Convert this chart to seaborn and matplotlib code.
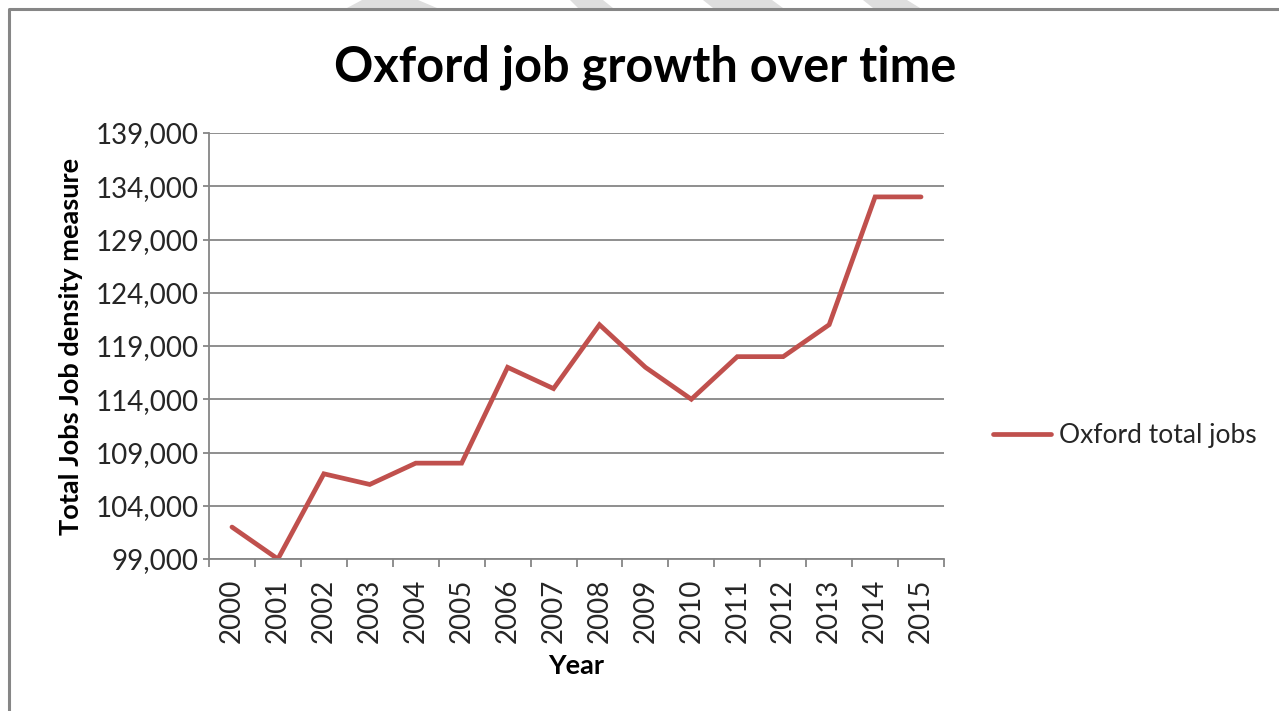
import matplotlib
matplotlib.use("Agg")
import matplotlib.pyplot as plt
import seaborn as sns
import pandas as pd
from matplotlib.lines import Line2D
from matplotlib.patches import Polygon
from matplotlib.ticker import FixedLocator, FuncFormatter

# Data
years = [str(y) for y in range(2000, 2016)]
total_jobs = [102000, 99000, 107000, 106000, 108000, 108000, 117000, 115000,
              121000, 117000, 114000, 118000, 118000, 121000, 133000, 133000]
y_ticks = list(range(99000, 139001, 5000))
series_name = "Oxford total jobs"

W, H = 1279, 711


def fx(px):
    return px / W


def fy(py):
    return 1 - py / H


sns.set_theme(style="white")
plt.rcParams['font.family'] = ['Lato', 'DejaVu Sans']

fig = plt.figure(figsize=(W / 100, H / 100), dpi=100)
fig.patch.set_facecolor("white")

# Page decorations: faint diagonal stripes above the chart frame
stripe_color = "#dedede"
stripes = [
    [(347, 8), (437, 8), (418, 0), (362, 0)],
    [(578, 8), (613, 8), (603, 0), (570, 0)],
    [(713, 8), (783, 8), (772, 0), (703, 0)],
    [(873, 8), (920, 8), (907, 0), (863, 0)],
]
for pts in stripes:
    fig.add_artist(Polygon([(fx(x), fy(y)) for x, y in pts], closed=True,
                           facecolor=stripe_color, edgecolor="none",
                           transform=fig.transFigure))

# Chart frame (left and top edges)
frame = Line2D([fx(8.5), fx(8.5), fx(1290)], [fy(720), fy(9), fy(9)],
               transform=fig.transFigure, color="#868686", lw=2.2)
fig.add_artist(frame)

ax = fig.add_axes([fx(209), fy(559), fx(944) - fx(209), fy(133) - fy(559)])

df = pd.DataFrame({"pos": range(len(years)), "jobs": total_jobs})
sns.lineplot(data=df, x="pos", y="jobs", ax=ax, color="#c0504d",
             linewidth=3.4, label=series_name, legend=False)
for ln in ax.lines:
    ln.set_solid_capstyle("round")
    ln.set_solid_joinstyle("miter")

ax.set_xlim(-0.5, len(years) - 0.5)
ax.set_ylim(y_ticks[0], y_ticks[-1])

grid_color = "#868686"
ax.yaxis.set_major_locator(FixedLocator(y_ticks))
ax.yaxis.set_major_formatter(FuncFormatter(lambda v, p: f"{int(v):,}"))
ax.grid(False)
ax.yaxis.grid(True, color=grid_color, linewidth=1.3)

ax.set_xticks(range(len(years)))
ax.set_xticklabels(years, rotation=90)
ax.set_xticks([i - 0.5 for i in range(len(years) + 1)], minor=True)

tick_color = "#262626"
ax.tick_params(axis="y", which="major", left=True, length=4.5, width=1.3,
               color=grid_color, labelsize=20, labelcolor=tick_color, pad=3)
ax.tick_params(axis="x", which="major", bottom=False, labelsize=20,
               labelcolor=tick_color, pad=8)
ax.tick_params(axis="x", which="minor", bottom=True, length=6, width=1.3,
               color=grid_color)

for side in ["top", "right"]:
    ax.spines[side].set_visible(False)
for side in ["left", "bottom"]:
    ax.spines[side].set_color(grid_color)
    ax.spines[side].set_linewidth(1.3)

ax.set_xlabel("Year", fontsize=19.5, fontweight="bold", color="black", labelpad=8)
ax.set_ylabel("Total Jobs Job density measure", fontsize=19.5,
              fontweight="bold", color="black", labelpad=9)

fig.text(fx(645), fy(67), "Oxford job growth over time", ha="center",
         va="center", fontsize=35, fontweight="bold", color="black")

handles, labels = ax.get_legend_handles_labels()
fig.legend(handles, labels, loc="center left",
           bbox_to_anchor=(fx(993), fy(436)), bbox_transform=fig.transFigure,
           frameon=False, fontsize=19, handlelength=2.2, handletextpad=0.3,
           borderpad=0, borderaxespad=0, labelcolor=tick_color)

fig.savefig("out.png", dpi=100)
